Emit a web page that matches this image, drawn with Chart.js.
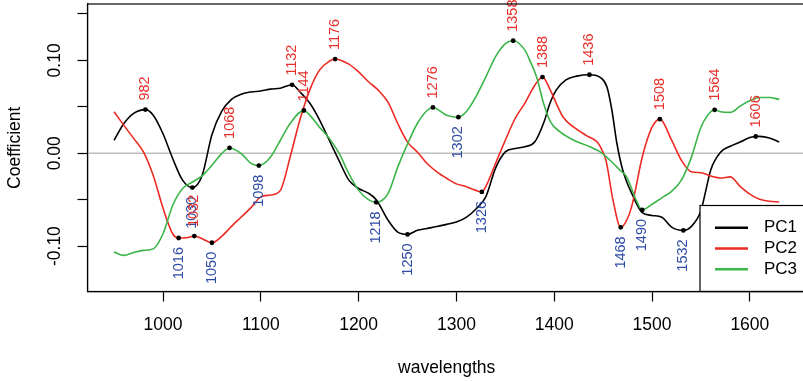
<!DOCTYPE html>
<html>
<head>
<meta charset="utf-8">
<script src="https://cdn.jsdelivr.net/npm/chart.js@4.4.0/dist/chart.umd.min.js"></script>
<style>
  html, body { margin: 0; padding: 0; background: #fff; overflow: hidden; }
  canvas { display: block; }
</style>
</head>
<body>
<canvas id="chart1" width="812" height="381"></canvas>
<script>
// loadings of the first three principal components
const pc1Wl = [950, 960, 970, 982, 990, 1000, 1010, 1020, 1030, 1040, 1050, 1060, 1070, 1080, 1090, 1100,
  1110, 1120, 1132, 1140, 1150, 1160, 1170, 1180, 1190, 1200, 1210, 1218, 1230, 1240, 1250, 1260, 1270,
  1280, 1290, 1300, 1310, 1320, 1330, 1340, 1350, 1360, 1370, 1380, 1390, 1395, 1402, 1412, 1423, 1436,
  1448, 1454, 1459, 1464, 1470, 1480, 1490, 1500, 1510, 1520, 1532, 1540, 1550, 1555, 1560, 1570, 1580,
  1590, 1600, 1606, 1610, 1620, 1630];
const pc1Val = [0.014, 0.032, 0.043, 0.047, 0.041, 0.021, -0.006, -0.029, -0.037, -0.024, 0.02, 0.045, 0.058,
  0.0636, 0.066, 0.067, 0.069, 0.070, 0.0737, 0.066, 0.054, 0.036, 0.014, -0.008, -0.029, -0.038, -0.043,
  -0.050, -0.072, -0.085, -0.0874, -0.083, -0.081, -0.079, -0.0766, -0.074, -0.069, -0.060, -0.047, -0.016,
  0.0014, 0.005, 0.007, 0.012, 0.035, 0.052, 0.068, 0.079, 0.083, 0.0845, 0.081, 0.071, 0.046, 0.011,
  -0.018, -0.045, -0.064, -0.067, -0.069, -0.0795, -0.0831, -0.079, -0.062, -0.04, -0.018, 0.001, 0.0076,
  0.012, 0.017, 0.018, 0.0182, 0.0165, 0.012];

const pc2Wl = [950, 960, 970, 980, 990, 1000, 1010, 1016, 1024, 1032, 1040, 1050, 1060, 1070, 1080, 1090,
  1100, 1110, 1120, 1130, 1140, 1150, 1160, 1170, 1176, 1180, 1190, 1200, 1210, 1220, 1230, 1240, 1250,
  1260, 1270, 1280, 1290, 1300, 1310, 1320, 1326, 1330, 1340, 1350, 1360, 1370, 1380, 1388, 1396, 1402,
  1409, 1420, 1433, 1444, 1449, 1453, 1460, 1468, 1475, 1480, 1490, 1500, 1508, 1520, 1530, 1540, 1550,
  1560, 1570, 1580, 1590, 1600, 1610, 1620, 1630];
const pc2Val = [0.0446, 0.030, 0.016, 0.0014, -0.024, -0.059, -0.087, -0.0913, -0.091, -0.0892, -0.092,
  -0.0964, -0.0895, -0.0787, -0.0687, -0.0586, -0.047, -0.045, -0.040, -0.004, 0.036, 0.068, 0.0895, 0.099,
  0.1014, 0.1007, 0.096, 0.0877, 0.077, 0.068, 0.055, 0.032, 0.012, 0.0014, -0.011, -0.020, -0.027, -0.033,
  -0.036, -0.040, -0.0417, -0.036, -0.011, 0.014, 0.0374, 0.054, 0.073, 0.082, 0.068, 0.054, 0.039, 0.028,
  0.019, 0.012, 0.003, -0.008, -0.05, -0.0798, -0.07, -0.054, -0.004, 0.028, 0.0367, 0.014, -0.0076, -0.020,
  -0.021, -0.0245, -0.0266, -0.0255, -0.0356, -0.044, -0.0496, -0.0518, -0.0525];

const pc3Wl = [950, 960, 970, 980, 990, 1000, 1010, 1020, 1030, 1040, 1050, 1060, 1068, 1080, 1090, 1098,
  1110, 1120, 1130, 1144, 1150, 1160, 1170, 1180, 1190, 1200, 1210, 1218, 1230, 1240, 1250, 1260, 1270,
  1276, 1290, 1302, 1310, 1320, 1330, 1340, 1350, 1358, 1370, 1375, 1382, 1389, 1396, 1406, 1420, 1437,
  1447, 1457, 1467, 1474, 1484, 1490, 1500, 1510, 1520, 1530, 1540, 1550, 1560, 1564, 1570, 1580, 1590,
  1600, 1610, 1620, 1630];
const pc3Val = [-0.1065, -0.110, -0.107, -0.1046, -0.103, -0.0867, -0.056, -0.038, -0.031, -0.0245, -0.013,
  -0.0004, 0.0057, -0.0004, -0.011, -0.0133, -0.004, 0.014, 0.032, 0.046, 0.041, 0.028, 0.016, 0.0, -0.022,
  -0.040, -0.050, -0.0529, -0.0435, -0.015, 0.010, 0.032, 0.046, 0.0493, 0.041, 0.0388, 0.0446, 0.061,
  0.082, 0.104, 0.118, 0.1211, 0.111, 0.100, 0.082, 0.054, 0.034, 0.023, 0.014, 0.0068, 0.0014, -0.0076,
  -0.018, -0.0255, -0.051, -0.0611, -0.055, -0.048, -0.041, -0.029, -0.005, 0.028, 0.0446, 0.0467, 0.0446,
  0.044, 0.0507, 0.0564, 0.060, 0.060, 0.058];

// marked extrema: wavelength, component, maximum (true) or minimum (false)
const peakWl = [982, 1016, 1030, 1032, 1050, 1068, 1098, 1132, 1144, 1176, 1218, 1250, 1276, 1302, 1326,
  1358, 1388, 1436, 1468, 1490, 1508, 1532, 1564, 1606];
const peakPc = [1, 2, 1, 2, 2, 3, 3, 1, 3, 2, 3, 1, 3, 3, 2, 3, 2, 1, 2, 3, 2, 1, 3, 1];
const peakMax = [true, false, false, true, false, true, false, true, true, true, false, false, true, false,
  false, true, true, true, false, false, true, false, true, true];

const xTicks = [1000, 1100, 1200, 1300, 1400, 1500, 1600];
const yTicks = [-0.1, -0.05, 0, 0.05, 0.1, 0.15];
const yLabelled = [-0.1, 0, 0.1];

const seriesWl = [pc1Wl, pc2Wl, pc3Wl];
const seriesVal = [pc1Val, pc2Val, pc3Val];
const colours = ['#000000', '#ee2a24', '#3cb54a'];

function toPoints(wl, val) {
  return wl.map((w, i) => ({x: w, y: val[i]}));
}
function valueAt(pc, w) {
  return seriesVal[pc - 1][seriesWl[pc - 1].indexOf(w)];
}
const peakPoints = peakWl.map((w, i) => ({x: w, y: valueAt(peakPc[i], w)}));

Chart.defaults.font.family = "'Liberation Sans', Arial, sans-serif";
Chart.defaults.color = '#000';

const decorations = {
  id: 'decorations',
  beforeDatasetsDraw(chart) {
    const {ctx, chartArea: a, scales: {y}} = chart;
    const y0 = y.getPixelForValue(0);
    ctx.save();
    ctx.strokeStyle = '#bebebe';
    ctx.lineWidth = 1.6;
    ctx.beginPath();
    ctx.moveTo(a.left, y0);
    ctx.lineTo(a.right, y0);
    ctx.stroke();
    ctx.restore();
  },
  afterDatasetsDraw(chart) {
    const {ctx, chartArea: a, scales: {x, y}} = chart;
    ctx.save();
    // wavelength labels at the extrema
    ctx.font = "14.5px 'Liberation Sans', Arial, sans-serif";
    ctx.textBaseline = 'middle';
    peakPoints.forEach((p, i) => {
      const px = x.getPixelForValue(p.x);
      const py = y.getPixelForValue(p.y);
      ctx.save();
      if (peakMax[i]) {
        ctx.translate(px, py - 9);
        ctx.textAlign = 'left';
        ctx.fillStyle = '#e8312c';
      } else {
        ctx.translate(px, py + 9);
        ctx.textAlign = 'right';
        ctx.fillStyle = '#2f4ca8';
      }
      ctx.rotate(-Math.PI / 2);
      ctx.fillText(String(p.x), 0, 0);
      ctx.restore();
    });

    // legend box
    const lx = 700, ly = 205.5;
    ctx.fillStyle = '#fff';
    ctx.fillRect(lx, ly, chart.width - lx, a.bottom - ly);
    ctx.strokeStyle = '#000';
    ctx.lineWidth = 1.2;
    ctx.strokeRect(lx, ly, chart.width - lx + 5, a.bottom - ly);
    ctx.font = "17px 'Liberation Sans', Arial, sans-serif";
    ctx.textAlign = 'left';
    chart.data.datasets.slice(0, 3).forEach((ds, i) => {
      const ry = 227.7 + i * 20.8;
      ctx.strokeStyle = ds.borderColor;
      ctx.lineWidth = 2.6;
      ctx.beginPath();
      ctx.moveTo(715, ry);
      ctx.lineTo(748, ry);
      ctx.stroke();
      ctx.fillStyle = '#000';
      ctx.fillText(ds.label, 764, ry);
    });

    // plot frame
    ctx.strokeStyle = '#000';
    ctx.lineWidth = 1.2;
    ctx.strokeRect(a.left, a.top, a.right - a.left, a.bottom - a.top);
    ctx.restore();
  }
};

const ctx1 = document.getElementById('chart1').getContext('2d');
new Chart(ctx1, {
  type: 'line',
  data: {
    datasets: [
      {label: 'PC1', data: toPoints(pc1Wl, pc1Val), borderColor: colours[0], order: 3},
      {label: 'PC2', data: toPoints(pc2Wl, pc2Val), borderColor: colours[1], order: 2},
      {label: 'PC3', data: toPoints(pc3Wl, pc3Val), borderColor: colours[2], order: 1},
      {label: 'extrema', data: peakPoints, showLine: false, pointRadius: 2.4,
       pointBackgroundColor: '#000', pointBorderWidth: 0, order: 0}
    ]
  },
  options: {
    responsive: false,
    animation: false,
    layout: {padding: {top: 4, right: 6.2, left: 0, bottom: 0}},
    elements: {
      line: {borderWidth: 1.6, cubicInterpolationMode: 'monotone', fill: false},
      point: {radius: 0}
    },
    plugins: {legend: {display: false}, tooltip: {enabled: false}},
    scales: {
      x: {
        type: 'linear',
        min: 922.8,
        max: 1657.2,
        afterBuildTicks: s => { s.ticks = xTicks.map(v => ({value: v})); },
        afterFit: s => { s.height = 89.5; s.paddingLeft = 0; s.paddingRight = 0; },
        ticks: {font: {size: 17.5}, padding: 13, maxRotation: 0, color: '#000',
                callback: v => String(v)},
        grid: {drawOnChartArea: false, tickLength: 10, tickColor: '#000', tickWidth: 1.2},
        border: {display: true, color: '#000', width: 1.2},
        title: {display: true, text: 'wavelengths', font: {size: 17.5}, color: '#000',
                padding: {top: 0, bottom: 2.2}}
      },
      y: {
        type: 'linear',
        min: -0.1489,
        max: 0.1607,
        afterBuildTicks: s => { s.ticks = yTicks.map(v => ({value: v})); },
        afterFit: s => { s.width = 87.5; s.paddingTop = 0; s.paddingBottom = 0; },
        ticks: {
          font: {size: 17.5}, color: '#000', padding: 2.6,
          minRotation: 90, maxRotation: 90, crossAlign: 'center',
          callback: v => yLabelled.includes(v) ? v.toFixed(2) : ''
        },
        grid: {drawOnChartArea: false, tickLength: 10, tickColor: '#000', tickWidth: 1.2},
        border: {display: true, color: '#000', width: 1.2},
        title: {display: true, text: 'Coefficient', font: {size: 17.5}, color: '#000',
                padding: {top: 4.5, bottom: 0}}
      }
    }
  },
  plugins: [decorations]
});
</script>
</body>
</html>
